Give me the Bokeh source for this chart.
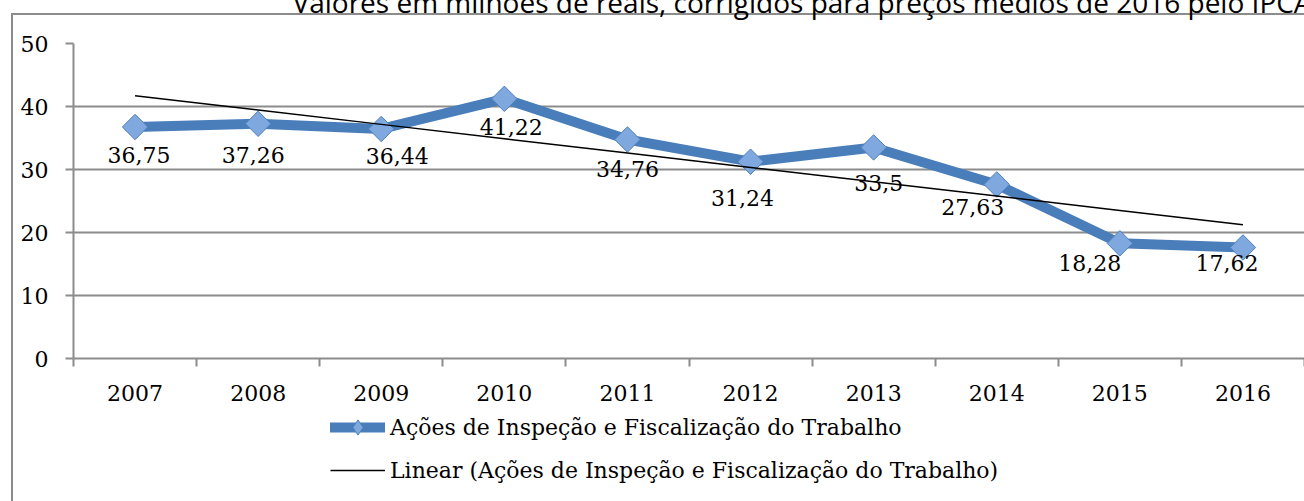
import numpy as np
from bokeh.plotting import figure
from bokeh.layouts import column
from bokeh.models import (Range1d, FixedTicker, Legend, LegendItem, ColumnDataSource)
from bokeh.core.properties import value
from bokeh.embed import file_html
from bokeh.resources import INLINE

# ---- data ----
years = ["2007", "2008", "2009", "2010", "2011", "2012", "2013", "2014", "2015", "2016"]
values = [36.75, 37.26, 36.44, 41.22, 34.76, 31.24, 33.5, 27.63, 18.28, 17.62]
y_ticks = [0, 10, 20, 30, 40, 50]
series_name = "Ações de Inspeção e Fiscalização do Trabalho"
trend_name = "Linear (Ações de Inspeção e Fiscalização do Trabalho)"
title_text = "Valores em milhões de reais, corrigidos para preços médios de 2016 pelo IPCA"

# ---- label placement (style, pixels) ----
label_dx = [4, -5, 16, 7, 0, -8, 5, -24, -30, -16]
label_dy = [28, 31, 27, 28, 29, 36, 36, 23, 20, 16]

SERIF = "DejaVu Serif"
GRID = "#8c8c8c"
BLUE = "#4a7ebb"
MFILL = "#7fa8de"
MLINE = "#4f81bd"
SHIFT = 44  # layout is pulled up so that the title is cut by the window top

xs = [i + 0.5 for i in range(len(years))]
coef = np.polyfit(np.arange(len(values)), values, 1)
trend = list(np.polyval(coef, np.arange(len(values))))
labels = [f"{v:g}".replace(".", ",") for v in values]

src = ColumnDataSource(dict(x=xs, y=values, lab=labels, dx=label_dx, dy=label_dy, t=trend))

# ---------------- main chart ----------------
p = figure(frame_width=1231, frame_height=315, output_backend="svg", toolbar_location=None,
           x_range=Range1d(0, len(years)), y_range=Range1d(0, 50),
           min_border_left=73, min_border_right=0, min_border_top=43 + SHIFT,
           min_border_bottom=46)
p.outline_line_color = None
p.background_fill_color = "white"
p.border_fill_color = None

p.title.text = title_text
p.title.text_font = "Open Sans"
p.title.text_font_size = "28px"
p.title.text_font_style = "normal"
p.title.text_color = "black"
p.title.align = "left"
p.title.offset = 219
p.title.standoff = 45

p.xgrid.visible = False
p.ygrid.grid_line_color = GRID
p.ygrid.grid_line_width = 2

p.yaxis.ticker = FixedTicker(ticks=y_ticks)
p.yaxis.axis_line_color = GRID
p.yaxis.axis_line_width = 2
p.yaxis.major_tick_out = 8
p.yaxis.major_tick_in = 0
p.yaxis.major_tick_line_color = GRID
p.yaxis.major_tick_line_width = 2
p.yaxis.minor_tick_line_color = None
p.yaxis.major_label_text_font = SERIF
p.yaxis.major_label_text_font_size = "22px"
p.yaxis.major_label_text_color = "black"
p.yaxis.major_label_standoff = 17

p.xaxis.ticker = FixedTicker(ticks=xs, minor_ticks=list(range(len(years) + 1)))
p.xaxis.major_label_overrides = {x: y for x, y in zip(xs, years)}
p.xaxis.axis_line_color = GRID
p.xaxis.axis_line_width = 2
p.xaxis.major_tick_line_color = None
p.xaxis.major_tick_out = 0
p.xaxis.major_tick_in = 0
p.xaxis.minor_tick_out = 8
p.xaxis.minor_tick_in = 0
p.xaxis.minor_tick_line_color = GRID
p.xaxis.minor_tick_line_width = 2
p.xaxis.major_label_text_font = SERIF
p.xaxis.major_label_text_font_size = "22px"
p.xaxis.major_label_text_color = "black"
p.xaxis.major_label_standoff = 18

line_style = dict(line_width=10, line_color=BLUE, line_join="round", line_cap="round")
trend_style = dict(line_color="black", line_width=1.5)

p.line("x", "y", source=src, **line_style)
p.scatter("x", "y", source=src, marker="square", angle=np.pi / 4, size=18,
          fill_color=MFILL, line_color=MLINE, line_width=1)
p.line("x", "t", source=src, **trend_style)

p.text("x", "y", text="lab", source=src, x_offset="dx", y_offset="dy",
       text_font=value(SERIF), text_font_size="22px", text_color="black",
       text_align="center", text_baseline="middle")

# ---------------- legend strip ----------------
# same series drawn in a strip whose y-range (0..1) keeps them out of view,
# so that only their legend glyphs are seen
LEG_H = 501 - (43 + 315 + 46)
q = figure(width=1304, height=LEG_H, output_backend="svg", toolbar_location=None,
           x_range=Range1d(0, 1), y_range=Range1d(0, 1),
           x_axis_type=None, y_axis_type=None,
           min_border_left=0, min_border_right=0, min_border_top=0, min_border_bottom=0)
q.outline_line_color = None
q.background_fill_color = None
q.border_fill_color = None
q.xgrid.visible = False
q.ygrid.visible = False

lg_line = q.line("x", "y", source=src, **line_style)
lg_mark = q.scatter("x", "y", source=src, marker="diamond", size=15,
                    fill_color=MFILL, line_color=MLINE, line_width=1)
lg_trend = q.line("x", "t", source=src, **trend_style)

legend = Legend(items=[LegendItem(label=series_name, renderers=[lg_line, lg_mark]),
                       LegendItem(label=trend_name, renderers=[lg_trend])],
                location=(257, 12), background_fill_alpha=0, border_line_color=None,
                label_text_font=SERIF, label_text_font_size="22px", label_text_color="black",
                glyph_width=55, glyph_height=38, label_height=26,
                label_standoff=5, spacing=5, padding=0, margin=0)
q.add_layout(legend)

layout = column(p, q, spacing=0)
layout.margin = (-SHIFT, 0, 0, 0)
layout.styles = {
    "background": (f"linear-gradient({GRID},{GRID}) 11px {13 + SHIFT}px / 2px 100% no-repeat, "
                   f"linear-gradient({GRID},{GRID}) 11px {13 + SHIFT}px / 100% 2px no-repeat, white"),
}

open("out.html", "w").write(file_html(layout, INLINE))
